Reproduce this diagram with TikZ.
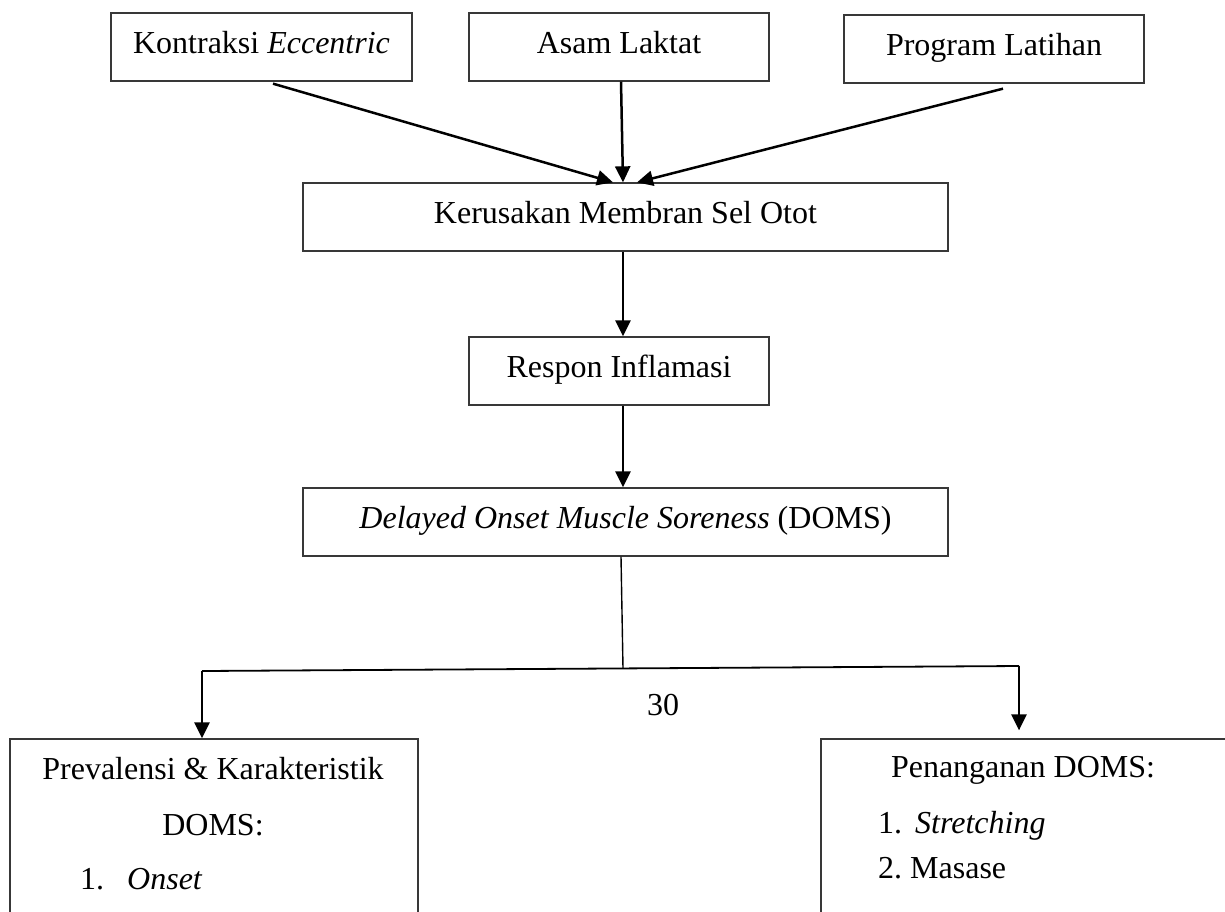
\documentclass[tikz,border=0pt]{standalone}
\usepackage{fontspec}
\setmainfont{Liberation Serif}
\usetikzlibrary{arrows.meta,calc}
\tikzset{
  txt/.style={font=\fontsize{32}{38}\selectfont, inner sep=0pt},
  box/.style={txt, draw=black!78, line width=1.3pt, text height=20pt, text depth=8pt},
  arr/.style={line width=2.5pt, -{Triangle[length=16pt,width=15pt]}},
  link/.style={line width=1.8pt}
}
\begin{document}
\begin{tikzpicture}[x=1pt,y=-1pt]
\useasboundingbox (0,0) rectangle (1225,911);
\clip (0,0) rectangle (1225,911);
\fill[white] (0,0) rectangle (1225,911);

\node[box, minimum width=301pt, minimum height=68pt] (K) at (261.5,47) {Kontraksi \textit{Eccentric}};
\node[box, minimum width=300pt, minimum height=68pt] (A) at (619,47) {Asam Laktat};
\node[box, minimum width=300pt, minimum height=68pt] (P) at (994,49) {Program Latihan};
\node[box, minimum width=645pt, minimum height=68pt] (KM) at (625.5,217) {Kerusakan Membran Sel Otot};
\node[box, minimum width=300pt, minimum height=68pt] (R) at (619,371) {Respon Inflamasi};
\node[box, minimum width=645pt, minimum height=68pt] (D) at (625.5,522) {\textit{Delayed Onset Muscle Soreness} (DOMS)};

\node[box, minimum width=408pt, minimum height=400pt] (Lb) at (214,939) {};
\node[box, minimum width=500pt, minimum height=400pt] (Rb) at (1071,939) {};

\node[txt, anchor=base] (l1) at (213,779) {Prevalensi \& Karakteristik};
\node[txt, anchor=base] (l2) at (213,835) {DOMS:};
\node[txt, anchor=base west] (l3) at (80,889) {1.\hspace{23pt}\textit{Onset}};

\node[txt, anchor=base] (r1) at (1023,777) {Penanganan DOMS:};
\node[txt, anchor=base west] (r2) at (878,833) {1.\hspace{13pt}\textit{Stretching}};
\node[txt, anchor=base west] (r3) at (878,878) {2.\hspace{8pt}Masase};

\node[txt] (n30) at (663,705) {30};

\draw[arr] ($(K.south)+(11.5,2)$) -- ($(KM.north)+(-12.5,0)$);
\draw[arr] ($(A.south)+(2,0)$) -- ($(KM.north)+(-2.5,0)$);
\draw[arr] ($(P.south)+(9,5)$) -- ($(KM.north)+(11.5,0)$);
\draw[arr] ($(KM.south)+(-2.5,0)$) -- ($(R.north)+(4,0)$);
\draw[arr] ($(R.south)+(4,0)$) -- ($(D.north)+(-2.5,0)$);

\coordinate (j) at (623,668.4);
\coordinate (hl) at (202,671);
\coordinate (hr) at (1019,666);
\draw[line width=1.4pt] ($(D.south)+(-4.5,0)$) -- (j);
\draw[link] (hl) -- (hr);
\draw[arr] (hl) -- (hl |- Lb.north);
\draw[arr] (hr) -- ($(hr |- Rb.north)+(0,-8)$);
\end{tikzpicture}
\end{document}
